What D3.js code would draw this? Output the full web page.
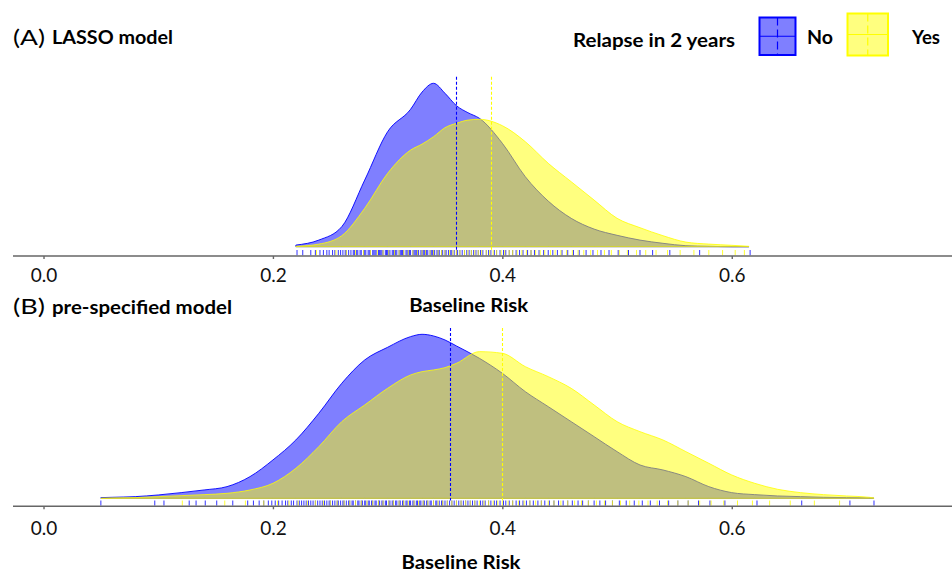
<!DOCTYPE html>
<html>
<head>
<meta charset="utf-8">
<script src="https://cdn.jsdelivr.net/npm/d3@7"></script>
<style>
  html, body { margin: 0; padding: 0; background: #fff; }
  svg { display: block; font-family: Lato, "Open Sans", sans-serif; }
  .axis path, .axis line { stroke: #666; stroke-width: 1.4; }
  .axis text { font-size: 19px; fill: #111; font-family: Lato, "Open Sans", sans-serif; }
</style>
</head>
<body>
<svg id="chart" width="952" height="572"></svg>
<script>
  // groups and shared ticks
  const groups = ['No', 'Yes'];
  const groupColors = ['#0000ff', '#ffff00'];
  const tickValues = [0, 0.2, 0.4, 0.6];

  // (A) LASSO model, density curves
  const riskGridA = [0.22, 0.24, 0.26, 0.28, 0.30, 0.32, 0.33, 0.34, 0.35, 0.36, 0.37, 0.38,
    0.40, 0.42, 0.44, 0.46, 0.48, 0.50, 0.52, 0.54, 0.56, 0.58, 0.60, 0.615];
  const densityA_No = [0.08, 0.33, 1.0, 3.33, 5.75, 6.87, 7.73, 8.17, 7.67, 7.05, 6.7, 6.42,
    5.17, 3.5, 2.28, 1.42, 0.88, 0.57, 0.33, 0.17, 0.05, 0.02, 0, 0];
  const densityA_Yes = [0.02, 0.13, 0.55, 1.92, 3.67, 4.83, 5.13, 5.5, 5.95, 6.17, 6.33, 6.37,
    6.05, 5.25, 4.17, 3.25, 2.33, 1.42, 0.95, 0.55, 0.23, 0.13, 0.07, 0.02];
  const meansA = [0.360, 0.390];
  const rugA_No = [0.221, 0.226, 0.233, 0.237, 0.241, 0.244, 0.247, 0.249, 0.252, 0.254, 0.257,
    0.259, 0.261, 0.263, 0.264, 0.266, 0.268, 0.270, 0.271, 0.273, 0.274, 0.276, 0.277, 0.279,
    0.280, 0.281, 0.283, 0.284, 0.285, 0.287, 0.288, 0.289, 0.290, 0.292, 0.293, 0.294, 0.295,
    0.296, 0.298, 0.299, 0.300, 0.301, 0.302, 0.304, 0.305, 0.306, 0.307, 0.308, 0.310, 0.311,
    0.312, 0.313, 0.314, 0.316, 0.317, 0.318, 0.319, 0.320, 0.322, 0.323, 0.324, 0.325, 0.326,
    0.327, 0.329, 0.330, 0.331, 0.332, 0.333, 0.334, 0.335, 0.337, 0.338, 0.339, 0.340, 0.341,
    0.343, 0.344, 0.345, 0.347, 0.348, 0.350, 0.351, 0.353, 0.355, 0.356, 0.358, 0.360, 0.361,
    0.363, 0.365, 0.367, 0.369, 0.371, 0.373, 0.375, 0.377, 0.379, 0.381, 0.383, 0.386, 0.388,
    0.390, 0.393, 0.395, 0.398, 0.401, 0.403, 0.406, 0.409, 0.412, 0.415, 0.418, 0.422, 0.425,
    0.428, 0.432, 0.436, 0.440, 0.444, 0.448, 0.452, 0.457, 0.462, 0.467, 0.473, 0.479, 0.486,
    0.493, 0.501, 0.510, 0.520, 0.531, 0.546, 0.572, 0.616];
  const rugA_Yes = [0.238, 0.255, 0.264, 0.272, 0.279, 0.285, 0.291, 0.296, 0.301, 0.306, 0.310,
    0.314, 0.318, 0.322, 0.326, 0.330, 0.333, 0.337, 0.340, 0.344, 0.347, 0.350, 0.354, 0.357,
    0.360, 0.363, 0.367, 0.370, 0.373, 0.376, 0.379, 0.382, 0.386, 0.389, 0.392, 0.395, 0.399,
    0.402, 0.406, 0.409, 0.413, 0.417, 0.421, 0.425, 0.429, 0.433, 0.437, 0.442, 0.446, 0.451,
    0.456, 0.461, 0.466, 0.471, 0.477, 0.483, 0.489, 0.495, 0.502, 0.509, 0.517, 0.525, 0.534,
    0.544, 0.555, 0.567, 0.580, 0.592, 0.603, 0.611];

  // (B) pre-specified model
  const riskGridB = [0.05, 0.06, 0.08, 0.10, 0.12, 0.14, 0.16, 0.18, 0.20, 0.22, 0.24, 0.26,
    0.28, 0.30, 0.32, 0.33, 0.34, 0.35, 0.36, 0.38, 0.40, 0.42, 0.44, 0.46, 0.48, 0.50, 0.52,
    0.54, 0.56, 0.58, 0.60, 0.62, 0.64, 0.66, 0.68, 0.70, 0.72, 0.724];
  const densityB_No = [0.02, 0.03, 0.05, 0.10, 0.17, 0.25, 0.35, 0.65, 1.15, 1.75, 2.55, 3.45,
    4.15, 4.53, 4.85, 4.92, 4.87, 4.75, 4.57, 4.2, 3.75, 3.2, 2.75, 2.3, 1.85, 1.4, 1.0,
    0.85, 0.65, 0.35, 0.17, 0.11, 0.07, 0.05, 0.03, 0.02, 0.01, 0];
  const densityB_Yes = [0, 0.01, 0.02, 0.05, 0.08, 0.11, 0.15, 0.25, 0.45, 0.9, 1.55, 2.3,
    2.8, 3.3, 3.7, 3.8, 3.85, 3.92, 4.05, 4.4, 4.35, 3.95, 3.65, 3.3, 2.8, 2.3, 2.0,
    1.75, 1.4, 1.05, 0.7, 0.45, 0.27, 0.17, 0.11, 0.07, 0.03, 0.01];
  const meansB = [0.354, 0.400];
  const rugB_No = [0.050, 0.097, 0.105, 0.127, 0.133, 0.141, 0.151, 0.165, 0.178, 0.183, 0.188,
    0.192, 0.196, 0.199, 0.202, 0.205, 0.208, 0.211, 0.213, 0.216, 0.218, 0.221, 0.223, 0.225,
    0.227, 0.229, 0.231, 0.233, 0.235, 0.237, 0.239, 0.241, 0.243, 0.245, 0.247, 0.249, 0.250,
    0.252, 0.254, 0.256, 0.257, 0.259, 0.261, 0.262, 0.264, 0.266, 0.267, 0.269, 0.270, 0.272,
    0.274, 0.275, 0.277, 0.278, 0.280, 0.281, 0.283, 0.284, 0.286, 0.287, 0.289, 0.290, 0.292,
    0.293, 0.295, 0.296, 0.298, 0.299, 0.301, 0.302, 0.304, 0.305, 0.307, 0.308, 0.310, 0.311,
    0.313, 0.314, 0.316, 0.317, 0.319, 0.320, 0.322, 0.323, 0.325, 0.326, 0.328, 0.329, 0.331,
    0.332, 0.334, 0.335, 0.337, 0.338, 0.340, 0.342, 0.343, 0.345, 0.347, 0.348, 0.350, 0.352,
    0.354, 0.356, 0.358, 0.360, 0.362, 0.364, 0.366, 0.368, 0.370, 0.372, 0.374, 0.376, 0.378,
    0.381, 0.383, 0.385, 0.388, 0.390, 0.393, 0.395, 0.398, 0.401, 0.403, 0.406, 0.409, 0.412,
    0.415, 0.418, 0.421, 0.424, 0.427, 0.431, 0.434, 0.437, 0.441, 0.445, 0.449, 0.453, 0.457,
    0.461, 0.466, 0.470, 0.475, 0.480, 0.485, 0.490, 0.496, 0.502, 0.508, 0.515, 0.522, 0.529,
    0.537, 0.545, 0.553, 0.562, 0.571, 0.581, 0.594, 0.622, 0.661, 0.703, 0.724];
  const rugB_Yes = [0.121, 0.158, 0.176, 0.192, 0.204, 0.214, 0.222, 0.230, 0.237, 0.244, 0.250,
    0.256, 0.262, 0.267, 0.272, 0.277, 0.282, 0.287, 0.292, 0.296, 0.301, 0.305, 0.310, 0.314,
    0.318, 0.323, 0.327, 0.331, 0.335, 0.340, 0.344, 0.348, 0.352, 0.356, 0.360, 0.364, 0.368,
    0.372, 0.376, 0.380, 0.384, 0.388, 0.392, 0.396, 0.400, 0.405, 0.409, 0.414, 0.419, 0.424,
    0.429, 0.434, 0.440, 0.445, 0.451, 0.457, 0.463, 0.469, 0.475, 0.482, 0.489, 0.496, 0.503,
    0.511, 0.519, 0.527, 0.535, 0.544, 0.553, 0.562, 0.572, 0.582, 0.593, 0.605, 0.618, 0.633,
    0.651, 0.672, 0.694];

  const panels = [
    {
      tag: '(A)', title: 'LASSO model', grid: riskGridA,
      densities: [densityA_No, densityA_Yes], means: meansA, rugs: [rugA_No, rugA_Yes],
      layout: { titleY: 44.5, axisY: 256, baseY: 246.7, peakY: 83.3, topY: 76.7,
        rugTop: 250, labelX: 468.7, labelY: 312, tickPad: 10 }
    },
    {
      tag: '(B)', title: 'pre-specified model', grid: riskGridB,
      densities: [densityB_No, densityB_Yes], means: meansB, rugs: [rugB_No, rugB_Yes],
      layout: { titleY: 314, axisY: 506.3, baseY: 498.3, peakY: 334.3, topY: 328,
        rugTop: 500.5, labelX: 461, labelY: 569, tickPad: 12 }
    }
  ];

  const svg = d3.select('#chart');
  const x = d3.scaleLinear().domain([-0.0266, 0.792]).range([13, 952]);
  const snap = (v) => Math.round(v) + 0.5;

  panels.forEach((panel) => {
    const L = panel.layout;
    const g = svg.append('g');
    const yMax = d3.max(panel.densities.flat());
    const y = d3.scaleLinear().domain([0, yMax]).range([L.baseY, L.peakY]);

    const area = d3
      .area()
      .curve(d3.curveMonotoneX)
      .x((d) => x(d[0]))
      .y0(y(0))
      .y1((d) => y(d[1]));

    panel.densities.forEach((values, i) => {
      const points = panel.grid.map((r, k) => [r, values[k]]);
      g.append('path')
        .datum(points)
        .attr('d', area)
        .attr('fill', groupColors[i])
        .attr('fill-opacity', 0.5)
        .attr('stroke', groupColors[i])
        .attr('stroke-opacity', i === 0 ? 0.9 : 0.8)
        .attr('stroke-width', 1);
    });

    // group means
    g.selectAll('line.mean')
      .data(panel.means)
      .join('line')
      .attr('class', 'mean')
      .attr('x1', (d) => snap(x(d)))
      .attr('x2', (d) => snap(x(d)))
      .attr('y1', L.topY)
      .attr('y2', L.rugTop)
      .attr('stroke', (d, i) => groupColors[i])
      .attr('stroke-width', 1.1)
      .attr('stroke-dasharray', '3,2');

    // rug
    panel.rugs.forEach((values, i) => {
      g.append('g')
        .selectAll('line')
        .data(values)
        .join('line')
        .attr('x1', (d) => x(d))
        .attr('x2', (d) => x(d))
        .attr('y1', L.rugTop)
        .attr('y2', L.axisY - 0.7)
        .attr('stroke', groupColors[i])
        .attr('stroke-opacity', 0.8)
        .attr('stroke-width', 1);
    });

    const axis = d3
      .axisBottom(x)
      .tickValues(tickValues)
      .tickFormat(d3.format('.1f'))
      .tickSizeInner(3)
      .tickSizeOuter(0)
      .tickPadding(L.tickPad);

    g.append('g')
      .attr('class', 'axis')
      .attr('transform', `translate(0,${L.axisY})`)
      .call(axis)
      .call((a) => a.select('.domain').attr('d', `M${x.range()[0]},0H${x.range()[1]}`));

    g.append('text')
      .attr('x', L.labelX)
      .attr('y', L.labelY)
      .attr('text-anchor', 'middle')
      .attr('font-size', 19)
      .attr('font-weight', 'bold')
      .attr('textLength', 119)
      .attr('lengthAdjust', 'spacingAndGlyphs')
      .text('Baseline Risk');

    g.append('text')
      .attr('x', 13)
      .attr('y', L.titleY)
      .attr('font-size', 22)
      .attr('textLength', 32)
      .attr('lengthAdjust', 'spacingAndGlyphs')
      .text(panel.tag);

    g.append('text')
      .attr('x', 52)
      .attr('y', L.titleY - 0.5)
      .attr('font-size', 18)
      .attr('font-weight', 'bold')
      .attr('textLength', panel.title.length > 12 ? 180 : 121)
      .attr('lengthAdjust', 'spacingAndGlyphs')
      .text(panel.title);
  });

  // legend
  const legend = svg.append('g');
  legend.append('text')
    .attr('x', 573)
    .attr('y', 46.5)
    .attr('font-size', 18)
    .attr('font-weight', 'bold')
    .attr('textLength', 162)
    .attr('lengthAdjust', 'spacingAndGlyphs')
    .text('Relapse in 2 years');

  const keys = [
    { x: 759.5, y: 17.5, w: 36, h: 37.5, tx: 807, tw: 26 },
    { x: 847.5, y: 13.5, w: 40.5, h: 42, tx: 912, tw: 28 }
  ];
  groups.forEach((name, i) => {
    const k = keys[i];
    legend.append('rect')
      .attr('x', k.x).attr('y', k.y).attr('width', k.w).attr('height', k.h)
      .attr('fill', groupColors[i]).attr('fill-opacity', 0.5)
      .attr('stroke', groupColors[i]).attr('stroke-width', 2);
    legend.append('line')
      .attr('x1', k.x).attr('x2', k.x + k.w)
      .attr('y1', k.y + k.h / 2).attr('y2', k.y + k.h / 2)
      .attr('stroke', groupColors[i]).attr('stroke-width', 1);
    legend.append('line')
      .attr('x1', k.x + k.w / 2).attr('x2', k.x + k.w / 2)
      .attr('y1', k.y).attr('y2', k.y + k.h)
      .attr('stroke', groupColors[i]).attr('stroke-width', 1.2)
      .attr('stroke-dasharray', '8,4');
    legend.append('text')
      .attr('x', k.tx)
      .attr('y', 44)
      .attr('font-size', 18)
      .attr('font-weight', 'bold')
      .attr('textLength', k.tw)
      .attr('lengthAdjust', 'spacingAndGlyphs')
      .text(name);
  });
</script>
</body>
</html>
